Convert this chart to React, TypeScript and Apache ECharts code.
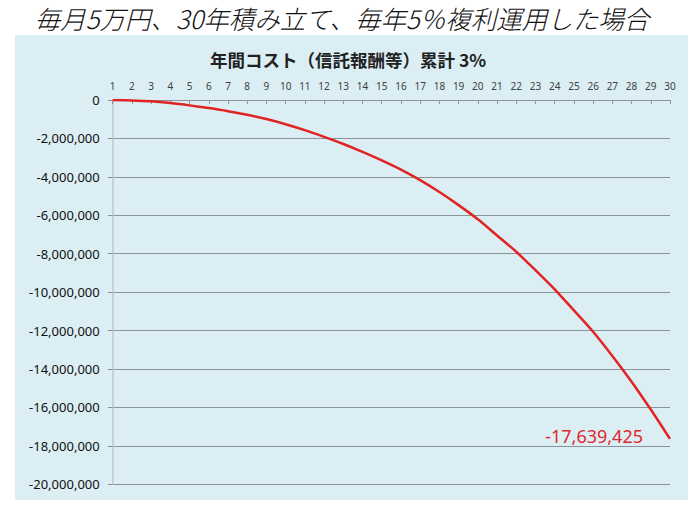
import React, { useEffect, useRef } from "react";
import * as echarts from "echarts";

const pageTitle = "毎月5万円、30年積み立て、毎年5％複利運用した場合";
const chartTitle = "年間コスト（信託報酬等）累計 3%";
const years = Array.from({ length: 30 }, (_, i) => String(i + 1));
const cumulativeCost = [
  0, -20000, -70000, -160000, -280000, -420000, -580000, -770000, -990000, -1260000,
  -1570000, -1920000, -2290000, -2700000, -3140000, -3620000, -4170000, -4790000, -5470000, -6210000,
  -7050000, -7900000, -8860000, -9850000, -10950000, -12060000, -13320000, -14660000, -16110000, -17639425,
];
const yMin = -20000000;
const yMax = 0;
const yStep = 2000000;

const fmt = (v: number) => v.toLocaleString("en-US");

export default function App() {
  const ref = useRef<HTMLDivElement>(null);
  useEffect(() => {
    const chart = echarts.init(ref.current!, null, { renderer: "svg" });
    const last = cumulativeCost.length - 1;
    chart.setOption({
      animation: false,
      backgroundColor: "#ffffff",
      graphic: [
        {
          type: "rect",
          z: -10,
          shape: { x: 15, y: 35, width: 673, height: 465 },
          style: { fill: "#DBEEF4" },
          silent: true,
        },
        {
          type: "text",
          x: 342,
          y: 17,
          style: {
            text: pageTitle,
            fontFamily: "Noto Sans CJK JP",
            fontSize: 25.5,
            fontStyle: "italic",
            fontWeight: 300,
            fill: "#111111",
            align: "center",
            verticalAlign: "middle",
          },
        },
      ],
      title: {
        text: chartTitle,
        left: 343,
        textAlign: "center",
        top: 46,
        textStyle: {
          fontFamily: "Noto Sans CJK JP",
          fontSize: 17.5,
          fontWeight: "bold",
          color: "#222222",
        },
      },
      grid: { left: 112.7, right: 30, top: 100, bottom: 30.7, containLabel: false },
      xAxis: {
        type: "category",
        position: "top",
        data: years,
        boundaryGap: false,
        axisLine: { show: true, lineStyle: { color: "#8C9499", width: 1 } },
        axisTick: { show: true, inside: true, length: 4, alignWithLabel: true, lineStyle: { color: "#8C9499" } },
        axisLabel: { interval: 0, fontSize: 10, color: "#404040", margin: 9, fontFamily: "Noto Sans" },
        splitLine: { show: false },
      },
      yAxis: {
        type: "value",
        min: yMin,
        max: yMax,
        interval: yStep,
        axisLine: { show: true, lineStyle: { color: "#BFC7CC", width: 1.5 } },
        axisTick: { show: true, length: 5, lineStyle: { color: "#8C9499" } },
        axisLabel: {
          fontSize: 13,
          color: "#111111",
          margin: 13,
          fontFamily: "Noto Sans",
          formatter: (v: number) => fmt(v),
        },
        splitLine: { show: true, lineStyle: { color: "#8C9499", width: 1 } },
      },
      series: [
        {
          type: "line",
          data: cumulativeCost,
          smooth: 0.25,
          showSymbol: false,
          symbol: "none",
          lineStyle: { color: "#E02424", width: 2.5 },
          markPoint: {
            symbol: "circle",
            symbolSize: 0,
            data: [
              {
                coord: [years[last], cumulativeCost[last]],
                value: cumulativeCost[last],
              },
            ],
            label: {
              show: true,
              position: "left",
              distance: 27,
              offset: [0, -3],
              formatter: (p: any) => fmt(p.value),
              fontSize: 18,
              color: "#E0282A",
              fontFamily: "Noto Sans",
            },
          },
        },
      ],
    });
    return () => chart.dispose();
  }, []);
  return (
    <div
      ref={ref}
      style={{ position: "absolute", left: 0, top: 0, width: 700, height: 515 }}
    />
  );
}
